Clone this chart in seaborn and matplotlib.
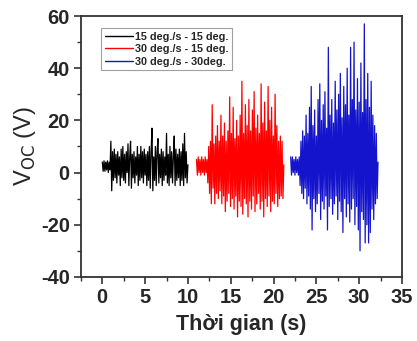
import numpy as np
import pandas as pd
import matplotlib
matplotlib.use("Agg")
import matplotlib.pyplot as plt
from matplotlib.ticker import MultipleLocator
import seaborn as sns

labels = ["15 deg./s - 15 deg.", "30 deg./s - 15 deg.", "30 deg./s - 30deg."]
colors = ["#000000", "#ff0000", "#1414cc"]
t_ranges = [(0.0, 10.0), (11.0, 21.2), (22.0, 32.2)]

v_black = [4, 0.5, 4.5, 0.5, 4, 1, 4.5, 0, 4,
           1, 12, -7, 8, -3, 9, -2, 7, -4, 8, -1, 6, -5, 9, -2, 10, -3, 7, -4, 8, 0,
           11, -5, 6, 12, -6, 7, -2, 8, -4, 6, -1, 10, -5, 7, -3, 10, -2, 8, -4, 9,
           -1, 7, -5, 8, -3, 10, -6, 8, 17, -7, 6, -3, 10, -5, 8, 13, -4, 7, -2, 9,
           -5, 8, -3, 6, -1, 15, -4, 7, -5, 10, -2, 8, -4, 6, 14, -5, 9, -3, 7, -2,
           9, -5, 8, -3, 11, -5, 15, -2, 8, -4, 3]

v_red = [5, -1, 6, 0, 5, -1, 6, 0, 5, -1, 6, 0, 5,
         -4, 10, -8, 12, -12, 26, -6, 11, -12, 14, -8, 18, -10, 12, -7, 22, -12,
         14, -9, 19, -15, 12, -11, 16, -8, 29, -13, 15, -10, 25, -14, 13, -9, 20,
         -17, 14, -11, 22, -13, 35, -16, 15, -10, 26, -12, 18, -17, 28, -11, 16,
         -14, 24, -9, 31, -15, 17, -12, 22, -8, 15, -14, 34, -11, 19, -17, 27,
         -10, 16, -13, 33, -9, 20, -15, 25, -11, 14, -12, 30, -8, 18, -13, 12,
         -10, 14, -9, 12, -10, 3]

v_blue = [6, -1, 6, 0, 5, -1, 6, 0, 5, -1, 6,
          -5, 12, -8, 16, -10, 14, -6, 22, -12, 15, -9, 25, -14, 33, -22, 18,
          -10, 24, -15, 14, -12, 28, -8, 34, -18, 20, -11, 26, -14, 31, -9, 17,
          -22, 48, -13, 22, -10, 28, -16, 19, -12, 35, -9, 24, -18, 30, -11, 38,
          -15, 21, -23, 33, -10, 26, -17, 40, -12, 22, -19, 48, -14, 28, -10, 50,
          -20, 24, -13, 36, -22, 27, -30, 42, -15, 23, -18, 57, -27, 28, -20, 38,
          -27, 25, -23, 35, -14, 22, -18, 18, -12, 15, -10, 4]

series = [v_black, v_red, v_blue]
frames = []
for lab, (t0, t1), v in zip(labels, t_ranges, series):
    frames.append(pd.DataFrame({"t": np.linspace(t0, t1, len(v)), "v": v, "s": lab}))
df = pd.concat(frames, ignore_index=True)

sns.set_style("ticks")
plt.rcParams["font.family"] = ["Liberation Sans", "DejaVu Sans"]
plt.rcParams["axes.unicode_minus"] = False

fig = plt.figure(figsize=(4.17, 3.41), dpi=100)
ax = fig.add_axes([0.194, 0.188, 0.770, 0.765])

sns.lineplot(data=df, x="t", y="v", hue="s", palette=dict(zip(labels, colors)),
             estimator=None, sort=False, linewidth=0.9, ax=ax, legend=True)

ax.set_xlim(-2.5, 35)
ax.set_ylim(-40, 60)
ax.xaxis.set_major_locator(MultipleLocator(5))
ax.xaxis.set_minor_locator(MultipleLocator(2.5))
ax.yaxis.set_major_locator(MultipleLocator(20))
ax.yaxis.set_minor_locator(MultipleLocator(10))
ax.tick_params(which="major", direction="out", length=5, width=1.2, color="#333333",
               labelsize=14.5, pad=3)
ax.tick_params(which="minor", direction="out", length=3, width=1.0, color="#333333")
for lab in ax.get_xticklabels() + ax.get_yticklabels():
    lab.set_fontweight("bold")
for sp in ax.spines.values():
    sp.set_visible(True)
    sp.set_linewidth(1.3)
    sp.set_color("#333333")

ax.set_xlabel("Thời gian (s)", fontsize=15.5, fontweight="bold", labelpad=5)
ax.set_ylabel("V$_{\\rm OC}$ (V)", fontsize=17, labelpad=2)

leg = ax.legend(loc="upper left", bbox_to_anchor=(0.045, 0.975), frameon=True,
                fancybox=False, edgecolor="#888888",
                prop={"weight": "bold", "size": 7.8}, handlelength=2.6,
                handletextpad=0.2, borderpad=0.35, labelspacing=0.22)
leg.get_frame().set_linewidth(0.8)
for h in leg.get_lines():
    h.set_linewidth(1.0)

fig.savefig("out.png", dpi=100)
